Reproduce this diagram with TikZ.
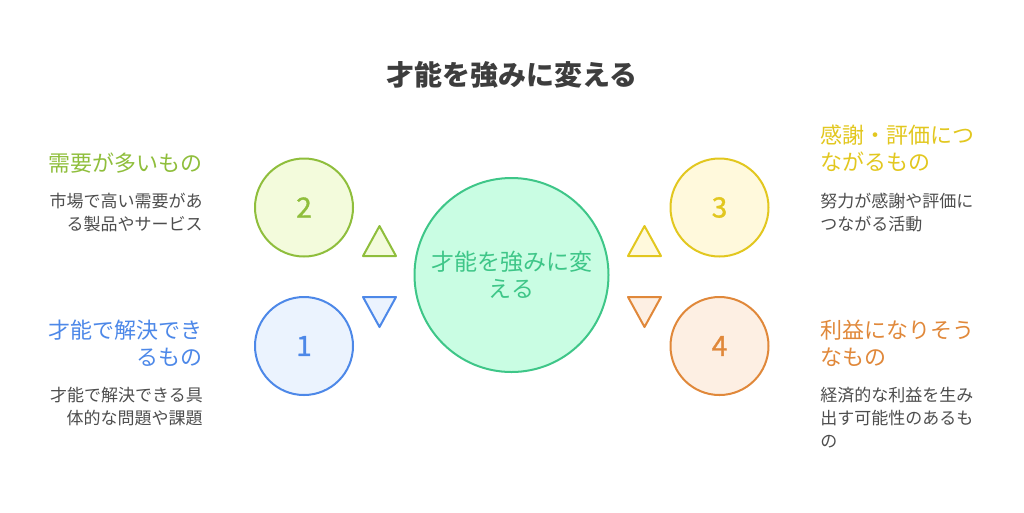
\documentclass[tikz,border=0pt]{standalone}
\usepackage{fontspec}
\newfontfamily\jpfont{Noto Sans CJK JP}
\newfontfamily\numfont[FakeBold=1.2]{Noto Sans CJK JP}
\definecolor{mygray}{HTML}{4D4D4D}
\definecolor{mytitle}{HTML}{3D3D3D}
\definecolor{mygreen}{HTML}{3EC688}
\definecolor{mygreenfill}{HTML}{C9FDE3}
\definecolor{mylime}{HTML}{8FBE3C}
\definecolor{mylimefill}{HTML}{F3FBDC}
\definecolor{myblue}{HTML}{4D88E8}
\definecolor{mybluefill}{HTML}{EBF3FE}
\definecolor{myyellow}{HTML}{E2C71F}
\definecolor{myyellowfill}{HTML}{FFF9DC}
\definecolor{myorange}{HTML}{E0883A}
\definecolor{myorangefill}{HTML}{FDEFE3}
\tikzset{
  numcircle/.style={circle, draw, line width=1.5pt, minimum size=73.5pt, inner sep=0pt,
    font=\numfont\fontsize{21}{21}\selectfont},
  tri/.style={line width=1.5pt, line join=round},
  heading/.style={inner sep=0pt, font=\jpfont\fontsize{16.5}{20.25}\selectfont},
  body/.style={inner sep=0pt, text=mygray, font=\jpfont\fontsize{12.75}{17.25}\selectfont},
}

\begin{document}
\begin{tikzpicture}[x=0.75pt,y=-0.75pt]
    \useasboundingbox (0,0) rectangle (1024,512);

    \pgfmathsetmacro\xl{304}   % left circles
    \pgfmathsetmacro\xr{719.5} % right circles
    \pgfmathsetmacro\yt{207.5}
    \pgfmathsetmacro\yb{346}

    \node[font=\jpfont\bfseries\fontsize{21}{21}\selectfont, text=mytitle] (title) at (512,75) {才能を強みに変える};

    % centre
    \node[circle, draw=mygreen, fill=mygreenfill, line width=1.5pt, minimum size=145.5pt, inner sep=0pt,
      align=center, text=mygreen, font=\jpfont\fontsize{17.25}{20.25}\selectfont] (core) at (511.5,275)
      {才能を強みに変\\える};

    % numbered circles
    \node[numcircle, draw=mylime, fill=mylimefill, text=mylime] (c2) at (\xl,\yt) {2};
    \node[numcircle, draw=myblue, fill=mybluefill, text=myblue] (c1) at (\xl,\yb) {1};
    \node[numcircle, draw=myyellow, fill=myyellowfill, text=myyellow] (c3) at (\xr,\yt) {3};
    \node[numcircle, draw=myorange, fill=myorangefill, text=myorange] (c4) at (\xr,\yb) {4};

    % triangles
    \filldraw[tri, draw=mylime, fill=mylimefill] (363,256) -- (379.5,226) -- (396,256) -- cycle;
    \filldraw[tri, draw=myblue, fill=mybluefill] (363,297) -- (379.5,327) -- (396,297) -- cycle;
    \filldraw[tri, draw=myyellow, fill=myyellowfill] (628,256) -- (644.5,226) -- (661,256) -- cycle;
    \filldraw[tri, draw=myorange, fill=myorangefill] (628,297) -- (644.5,327) -- (661,297) -- cycle;

    % left texts
    \node[heading, text=mylime, anchor=north east, align=right] (h2) at (203,153) {需要が多いもの};
    \node[body, anchor=north east, align=right] (b2) at (203,193) {市場で高い需要があ\\る製品やサービス};
    \node[heading, text=myblue, anchor=north east, align=right] (h1) at (203,320) {才能で解決でき\\るもの};
    \node[body, anchor=north east, align=right] (b1) at (203,387) {才能で解決できる具\\体的な問題や課題};

    % right texts
    \node[heading, text=myyellow, anchor=north west, align=left] (h3) at (820,125) {感謝・評価につ\\ながるもの};
    \node[body, anchor=north west, align=left] (b3) at (820,193) {努力が感謝や評価に\\つながる活動};
    \node[heading, text=myorange, anchor=north west, align=left] (h4) at (820,320) {利益になりそう\\なもの};
    \node[body, anchor=north west, align=left] (b4) at (820,387) {経済的な利益を生み\\出す可能性のあるも\\の};
\end{tikzpicture}
\end{document}
